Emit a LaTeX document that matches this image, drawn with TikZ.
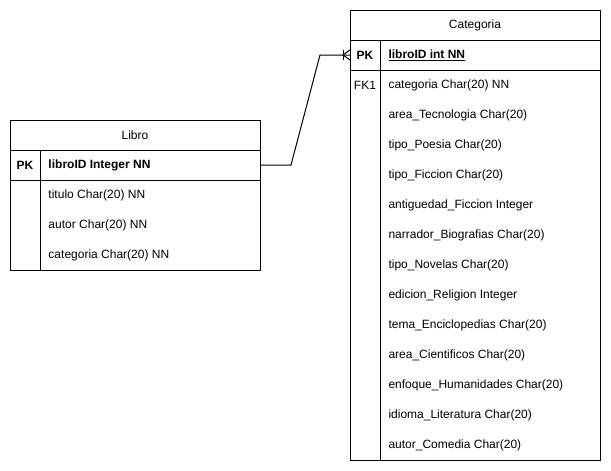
\documentclass[tikz,border=0pt]{standalone}
\usepackage{fontspec}
\setmainfont{Liberation Sans}
\setsansfont{Liberation Sans}
\begin{document}
\begin{tikzpicture}[
				x=1pt, y=-1pt,
				line width=1pt,
				font=\sffamily,
				every node/.style={
						font=\sffamily\fontsize{12}{14}\selectfont,
					},
				tbl/.style={draw, anchor=north west, minimum width=250pt, inner sep=0pt},
				fld/.style={anchor=west, inner sep=0pt},
				keycol/.style={inner sep=0pt},]
			\useasboundingbox (0,0) rectangle (611,471);
			% Libro
			\node[tbl, minimum height=150pt] (libro) at (10,120) {};
			\draw (10,150) -- (260,150);
			\draw (10,180) -- (260,180);
			\draw (40,150) -- (40,270);
			\node (libroT) at (135,135) {Libro};
			\node[keycol] (libroK) at (25,165) {\textbf{PK}};
			\node[fld] (libroID) at (48,165) {\textbf{libroID Integer NN}};
			\foreach \f [count=\i] in {titulo Char(20) NN,autor Char(20) NN,categoria Char(20) NN} {
					\node[fld] (libro\i) at (48,165+30*\i) {\f};
				}
			% Categoria
			\node[tbl, minimum height=450pt] (cat) at (350,10) {};
			\draw (350,40) -- (600,40);
			\draw (350,70) -- (600,70);
			\draw (380,40) -- (380,460);
			\node (catT) at (475,25) {Categoria};
			\node[keycol] (catK) at (365,55) {\textbf{PK}};
			\node[fld] (catID) at (388,55) {\underline{\textbf{libroID int NN}}};
			\node[keycol] (catFK) at (365,85) {FK1};
			\foreach \f [count=\i] in {categoria Char(20) NN,area\_Tecnologia Char(20),tipo\_Poesia Char(20),
					tipo\_Ficcion Char(20),antiguedad\_Ficcion Integer,narrador\_Biografias Char(20),
					tipo\_Novelas Char(20),edicion\_Religion Integer,tema\_Enciclopedias Char(20),
					area\_Cientificos Char(20),enfoque\_Humanidades Char(20),idioma\_Literatura Char(20),
					autor\_Comedia Char(20)} {
					\node[fld] (cat\i) at (388,55+30*\i) {\f};
				}
			% relacion
			\coordinate (libroEnd) at (libro.east |- libroID);
			\coordinate (catEnd) at (cat.west |- catID);
			\draw (libroEnd) -- ++(30,0) -- ([xshift=-30pt]catEnd) -- (catEnd);
			\draw ([xshift=-7pt,yshift=5pt]catEnd) -- ([xshift=-7pt,yshift=-5pt]catEnd);
			\draw ([yshift=5pt]catEnd) -- ([xshift=-7pt]catEnd) -- ([yshift=-5pt]catEnd);
		\end{tikzpicture}
\end{document}
